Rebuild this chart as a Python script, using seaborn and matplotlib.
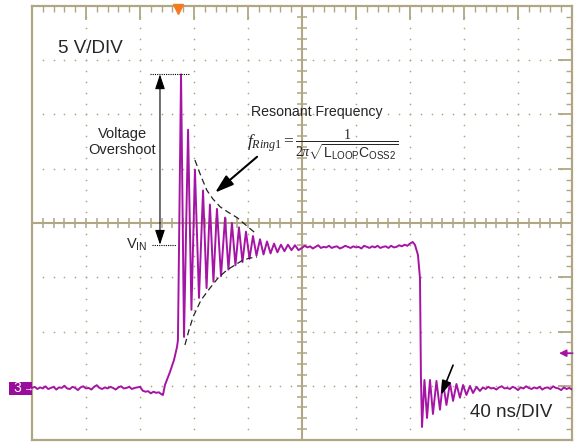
import numpy as np
import pandas as pd
import matplotlib
matplotlib.use("Agg")
import matplotlib.pyplot as plt
import seaborn as sns
from matplotlib.patches import Rectangle

# ---- trace data (time in ns, voltage in V, ground = 0 V) ----
# flat baseline before the switching edge, sampled every 2 ns from 0 ns
base1_start, base1_step = 0.0, 2.0
base1_v = [-0.2, -0.1, -0.3, -0.15, -0.25, -0.05, -0.3, -0.2, -0.1, -0.35,
           -0.15, -0.2, 0.0, -0.25, -0.3, -0.1, -0.2, -0.4, -0.15, -0.05,
           -0.25, -0.2, -0.35, -0.1, 0.05, -0.2, -0.3, -0.15, -0.25, -0.1,
           -0.2, -0.35, -0.15, -0.05, -0.25, -0.2, -0.1, -0.3, -0.2, -0.15,
           -0.1, -0.45, -0.55, -0.5, -0.7, -0.55, -0.65, -0.6, -0.8]

# rising edge and ringing (peaks / troughs)
ring1_t = [97.0, 98.5, 102.2, 105.2, 107.4, 108.1, 110.4, 112.6, 115.6, 118.1,
           120.7, 123.7, 126.7, 129.3, 131.8, 134.4, 137.0, 140.0, 143.0, 145.5,
           148.1, 150.7, 153.3, 155.9, 158.5, 161.1, 163.7, 166.3, 168.9, 171.5,
           174.1, 176.7, 179.3, 181.8, 184.4, 187.0, 189.6, 192.2, 194.8, 197.4]
ring1_v = [-0.85, 0.07, 1.27, 2.38, 3.57, 4.2, 28.7, 4.5, 23.6, 7.0,
           19.9, 8.1, 18.0, 9.0, 16.7, 9.6, 16.3, 10.1, 15.5, 10.7,
           15.0, 11.1, 14.6, 11.4, 14.2, 11.7, 13.8, 12.0, 13.5, 12.1,
           13.3, 12.2, 13.1, 12.3, 13.0, 12.4, 13.0, 12.5, 12.95, 12.5]

# flat top at V_IN, sampled every 2 ns from 200 ns
top_start, top_step = 200.0, 2.0
top_v = [12.7, 12.9, 12.75, 12.85, 12.65, 12.8, 12.95, 12.7, 12.8, 12.75,
         12.9, 12.7, 12.8, 12.85, 12.65, 12.75, 12.9, 12.8, 12.7, 12.85,
         12.75, 12.8, 12.65, 12.9, 12.8, 12.7, 12.85, 12.75, 12.9, 12.7,
         12.8, 12.85, 12.7, 12.9, 12.75, 12.8, 12.95, 12.85, 13.0, 12.9,
         13.1, 13.25]

# falling edge and second ringing
ring2_t = [283.7, 285.9, 287.4, 287.8, 288.1, 288.9, 290.7, 292.6, 294.8, 297.0,
           299.6, 302.2, 304.4, 307.0, 309.6, 311.9, 314.4, 317.0, 319.3, 321.8,
           324.4, 326.7, 329.3, 331.8]
ring2_v = [12.98, 12.05, 9.9, 4.5, 0.8, -3.8, 0.53, -2.97, 0.53, -2.6,
           0.44, -2.2, 0.35, -1.77, 0.25, -1.4, 0.16, -1.1, 0.07, -0.85,
           -0.02, -0.67, -0.1, -0.48]

# baseline after turn-off, sampled every 2 ns from 334 ns
base2_start, base2_step = 334.0, 2.0
base2_v = [-0.15, -0.3, -0.1, -0.25, -0.2, -0.35, -0.15, -0.05, -0.25, -0.2,
           -0.3, -0.1, -0.2, -0.4, -0.15, -0.25, -0.05, -0.2, -0.3, -0.15,
           -0.25, -0.1, -0.35, -0.2, -0.15, -0.3, -0.05, -0.2, -0.25, -0.4,
           -0.15, -0.3, -0.2, -0.35]

# dashed decay envelopes
env_up_t = [120.7, 125.2, 129.6, 134.1, 139.3, 145.2, 151.9, 158.5, 165.2]
env_up_v = [20.8, 19.3, 18.0, 17.2, 16.5, 16.0, 15.5, 14.8, 14.1]
env_lo_t = [113.3, 116.3, 119.3, 125.2, 131.9, 137.8, 144.4, 150.4, 156.3, 161.5, 166.7]
env_lo_v = [3.76, 5.14, 6.34, 7.90, 9.01, 9.93, 10.67, 11.13, 11.59, 11.77, 11.87]

v_peak = 28.7
v_in = 13.0

TRACE = "#A514A5"
GRID = "#B0A684"


def sampled(start, step, values):
    return start + step * np.arange(len(values))


def main():
    sns.set_style("white")
    plt.rcParams["font.family"] = ["Liberation Sans", "DejaVu Sans"]
    plt.rcParams["mathtext.fontset"] = "custom"
    plt.rcParams["mathtext.rm"] = "Liberation Serif"
    plt.rcParams["mathtext.it"] = "Liberation Serif:italic"
    plt.rcParams["mathtext.sf"] = "Liberation Sans"

    t = np.concatenate([sampled(base1_start, base1_step, base1_v), ring1_t,
                        sampled(top_start, top_step, top_v), ring2_t,
                        sampled(base2_start, base2_step, base2_v)])
    v = np.concatenate([base1_v, ring1_v, top_v, ring2_v, base2_v])
    trace = pd.DataFrame({"t": t, "v": v})

    fig = plt.figure(figsize=(5.74, 4.42), dpi=100)
    ax = fig.add_axes([32 / 574, 2 / 442, 540 / 574, 434 / 442])
    ax.set_xlim(0, 400)
    ax.set_ylim(-5, 35)

    # scope graticule
    ax.set_xticks(np.arange(0, 401, 40))
    ax.set_yticks(np.arange(-5, 36, 5))
    ax.set_xticks(np.arange(0, 401, 8), minor=True)
    ax.set_yticks(np.arange(-5, 36, 1), minor=True)
    ax.tick_params(which="both", direction="in", top=True, right=True, color=GRID,
                   labelbottom=False, labelleft=False)
    ax.tick_params(which="major", length=10, width=1.3)
    ax.tick_params(which="minor", length=4, width=1.0)
    for s in ax.spines.values():
        s.set_color(GRID)
        s.set_linewidth(1.6)

    minor_x = np.arange(8, 400, 8)
    minor_y = np.arange(-4, 35, 1)
    for gx in range(40, 400, 40):
        if gx != 200:
            ax.scatter(np.full(len(minor_y), gx), minor_y, s=1.5, color=GRID, lw=0, zorder=1)
    for gy in range(0, 35, 5):
        if gy != 15:
            ax.scatter(minor_x, np.full(len(minor_x), gy), s=1.5, color=GRID, lw=0, zorder=1)
    ax.axvline(200, color=GRID, lw=1.5, zorder=1)
    ax.axhline(15, color=GRID, lw=1.5, zorder=1)
    ax.plot(minor_x, np.full(len(minor_x), 15), ls="none", marker="|", ms=6.5,
            mew=1.1, color=GRID, zorder=1)
    ax.plot(np.full(len(minor_y), 200), minor_y, ls="none", marker="_", ms=6.5,
            mew=1.1, color=GRID, zorder=1)

    # the waveform
    sns.lineplot(data=trace, x="t", y="v", sort=False, estimator=None,
                 color=TRACE, lw=1.4, ax=ax, zorder=3)
    ax.set_xlabel("")
    ax.set_ylabel("")

    # envelopes
    ax.plot(env_up_t, env_up_v, color="#222222", lw=0.9, dashes=(5, 3), zorder=4)
    ax.plot(env_lo_t, env_lo_v, color="#222222", lw=0.9, dashes=(5, 3), zorder=4)

    # overshoot annotation
    ax.plot([87.4, 117.0], [v_peak, v_peak], color="black", lw=0.8, dashes=(1, 1), zorder=4)
    ax.plot([88.9, 106.7], [v_in, v_in], color="black", lw=0.8, dashes=(1, 1), zorder=4)
    ax.annotate("", xy=(94.8, v_peak), xytext=(94.8, v_in),
                arrowprops=dict(arrowstyle="<|-|>,head_length=0.9,head_width=0.3",
                                color="black", lw=0.8, mutation_scale=10,
                                shrinkA=0, shrinkB=0), zorder=5)
    ax.text(66.7, 22.5, "Voltage\nOvershoot", ha="center", va="center",
            fontsize=10.5, linespacing=1.2)
    ax.text(85.2, 13.0, r"V$_\mathregular{IN}$", ha="right", va="center", fontsize=10.5)

    ax.text(19.3, 31.1, "5 V/DIV", ha="left", va="center", fontsize=13.5)
    ax.text(324.4, -2.5, "40 ns/DIV", ha="left", va="center", fontsize=13.5)

    ax.text(210.7, 25.2, "Resonant Frequency", ha="center", va="center", fontsize=10.2)
    ax.text(194.8, 22.4, r"$f_{Ring1} =$", ha="right", va="center", fontsize=12.5)
    ax.text(233.7, 22.1, r"$\dfrac{1}{2\pi\sqrt{\mathsf{L_{LOOP}C_{OSS2}}}}$",
            ha="center", va="center", fontsize=10)

    ax.annotate("", xy=(135.6, 17.8), xytext=(166.7, 21.1),
                arrowprops=dict(arrowstyle="-|>,head_length=1.4,head_width=0.45",
                                color="black", lw=1.5, mutation_scale=8,
                                shrinkA=0, shrinkB=0), zorder=5)
    ax.annotate("", xy=(303.0, -0.84), xytext=(311.9, 1.9),
                arrowprops=dict(arrowstyle="-|>,head_length=1.2,head_width=0.4",
                                color="black", lw=1.2, mutation_scale=7,
                                shrinkA=0, shrinkB=0), zorder=5)

    # scope markers
    ax.annotate("", xy=(390.4, 3.0), xytext=(400.5, 3.0), annotation_clip=False,
                arrowprops=dict(arrowstyle="-|>,head_length=0.6,head_width=0.3",
                                color=TRACE, lw=1.2, mutation_scale=7,
                                shrinkA=0, shrinkB=0))
    ax.plot([108.1], [0.992], transform=ax.get_xaxis_transform(), marker="v",
            ms=7, color="#F47A20", clip_on=False, zorder=6)
    fig.patches.append(Rectangle((9 / 574, 1 - 395 / 442), 23 / 574, 13 / 442,
                                 transform=fig.transFigure, facecolor="#9A0C9A",
                                 edgecolor="none", zorder=6))
    fig.text(17.5 / 574, 1 - 388.5 / 442, "3", color="white", fontsize=10,
             ha="center", va="center", zorder=7)
    fig.text(28 / 574, 1 - 388.5 / 442, "\u2192", color="white", fontsize=7,
             ha="center", va="center", zorder=7)

    fig.savefig("out.png", dpi=100)
    plt.close(fig)


if __name__ == "__main__":
    main()
